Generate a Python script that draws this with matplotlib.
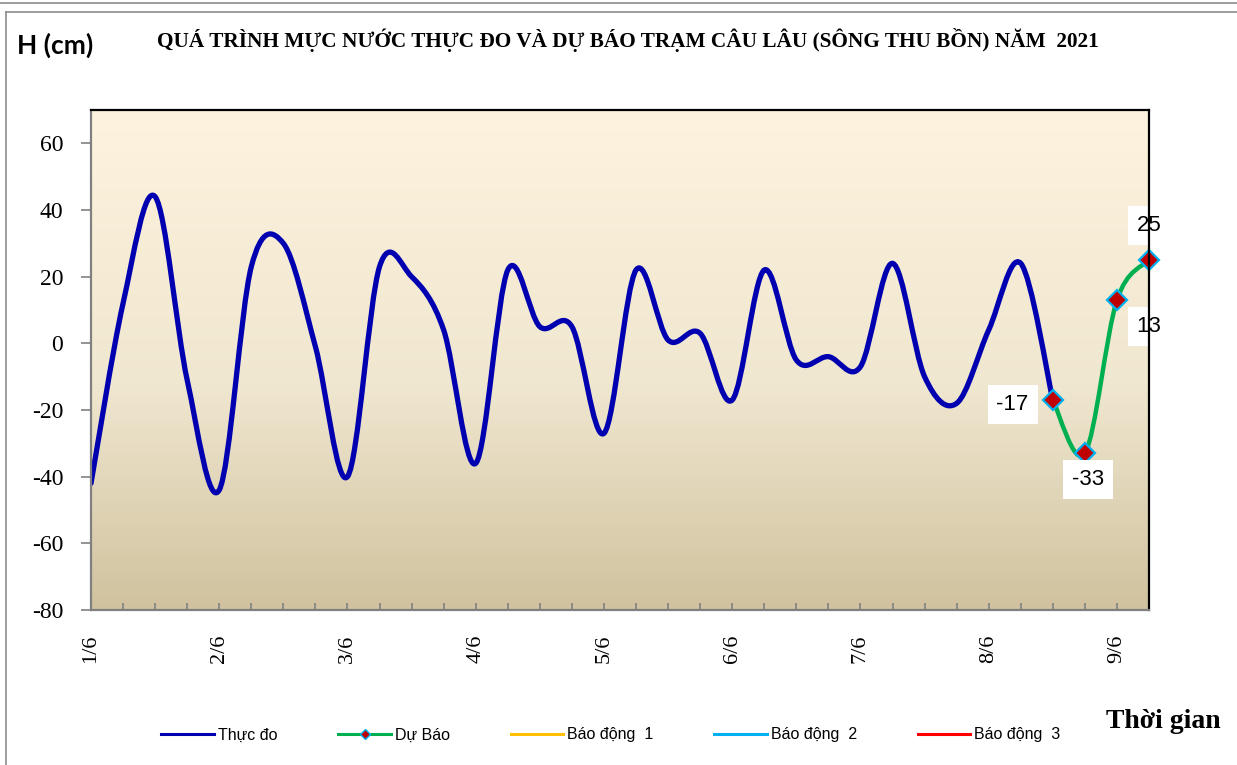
import numpy as np
import matplotlib
matplotlib.use("Agg")
import matplotlib.pyplot as plt
from matplotlib.path import Path
from matplotlib.patches import PathPatch
from matplotlib.lines import Line2D
from matplotlib.colors import LinearSegmentedColormap

# ---------------- data ----------------
day_labels = ["1/6", "2/6", "3/6", "4/6", "5/6", "6/6", "7/6", "8/6", "9/6"]
steps_per_day = 4          # observations every 6 hours
n_steps = 33               # 1/6 00h ... 9/6 06h
observed = [-42, 12, 44, -11, -44, 23, 30, -1, -40, 23, 20, 4,
            -36, 22, 5, 5, -27, 22, 1, 3, -17, 22, -5, -4,
            -7, 24, -10, -18, 4, 24, -17]
forecast = [-17, -33, 13, 25]
forecast_start = 30
forecast_label_offsets = [(-29, -3), (2, -19), (23, -19), (0, 25)]
legend_names = ["Thực đo", "Dự Báo", "Báo động  1", "Báo động  2", "Báo động  3"]
title = "QUÁ TRÌNH MỰC NƯỚC THỰC ĐO VÀ DỰ BÁO TRẠM CÂU LÂU (SÔNG THU BỒN) NĂM  2021"

BLUE = "#0000B0"
GREEN = "#00B050"
ALARM_COLORS = ["#FFC000", "#00B0F0", "#FF0000"]


def smooth_path(xs, ys):
    pts = np.column_stack([xs, ys]).astype(float)
    n = len(pts)
    verts = [pts[0]]
    codes = [Path.MOVETO]
    for i in range(n - 1):
        p0 = pts[i - 1] if i > 0 else pts[i]
        p1 = pts[i]
        p2 = pts[i + 1]
        p3 = pts[i + 2] if i + 2 < n else pts[i + 1]
        c1 = p1 + (p2 - p0) / 6.0
        c2 = p2 - (p3 - p1) / 6.0
        verts += [c1, c2, p2]
        codes += [Path.CURVE4] * 3
    return Path(verts, codes)


W, H = 1237, 765
fig = plt.figure(figsize=(W / 100, H / 100), dpi=100)
fig.patch.set_facecolor("white")

L, R, T, B = 91, 1149, 110, 610
ax = fig.add_axes([L / W, 1 - B / H, (R - L) / W, (B - T) / H])

# gradient background
cmap = LinearSegmentedColormap.from_list(
    "bg", [(0.0, (208/255, 194/255, 158/255)),
           (0.45, (240/255, 231/255, 208/255)),
           (1.0, (254/255, 243/255, 222/255))])
grad = np.linspace(0, 1, 256).reshape(-1, 1)
ax.imshow(grad, cmap=cmap, origin="lower", aspect="auto",
          extent=[0, n_steps, -80, 70], zorder=0, interpolation="bicubic")

x_obs = np.arange(len(observed))
x_fc = np.arange(forecast_start, forecast_start + len(forecast))

ax.add_patch(PathPatch(smooth_path(x_obs, observed), fill=False, edgecolor=BLUE,
                       lw=3.8, capstyle="round", joinstyle="round", zorder=3))
ax.add_patch(PathPatch(smooth_path(x_fc, forecast), fill=False, edgecolor=GREEN,
                       lw=3.2, capstyle="round", joinstyle="round", zorder=4))
ax.plot(x_fc, forecast, linestyle="none", marker="D", markersize=10,
        markerfacecolor="#C00000", markeredgecolor="#00B0F0", markeredgewidth=1.6,
        zorder=5, clip_on=False)

for xv, yv, off in zip(x_fc, forecast, forecast_label_offsets):
    ax.annotate(f"{yv}", (xv, yv), xytext=off, textcoords="offset points",
                ha="center", va="center", fontsize=16, family="Liberation Sans",
                bbox=dict(boxstyle="square,pad=0.4", fc="white", ec="none"),
                zorder=6, annotation_clip=False)

ax.set_xlim(0, n_steps)
ax.set_ylim(-80, 70)

ax.set_xticks(np.arange(0, n_steps + 1, steps_per_day))
ax.set_xticklabels(day_labels, rotation=90, fontsize=16, family="Liberation Serif")
ax.set_xticks(np.arange(0, n_steps + 1, 1), minor=True)
ax.tick_params(axis="x", which="both", direction="in", length=5, width=1.2,
               color="#808080", pad=18)
ax.set_yticks(np.arange(-80, 61, 20))
ax.set_yticklabels([str(v) for v in range(-80, 61, 20)], fontsize=17,
                   family="Liberation Serif")
ax.tick_params(axis="y", which="major", direction="out", length=7, width=1.2,
               color="#808080", pad=13)

for s in ["left", "bottom"]:
    ax.spines[s].set_color("#808080")
    ax.spines[s].set_linewidth(1.6)
for s in ["top", "right"]:
    ax.spines[s].set_color("black")
    ax.spines[s].set_linewidth(1.6)
for s in ax.spines.values():
    s.set_zorder(7)

# legend
handles = [Line2D([], [], color=BLUE, lw=2.2),
           Line2D([], [], color=GREEN, lw=2.2, marker="D", markersize=5,
                  markerfacecolor="#C00000", markeredgecolor="#00B0F0"),
           Line2D([], [], color=ALARM_COLORS[0], lw=2.2),
           Line2D([], [], color=ALARM_COLORS[1], lw=2.2),
           Line2D([], [], color=ALARM_COLORS[2], lw=2.2)]
fig.legend(handles, legend_names, loc="center", ncol=5,
           bbox_to_anchor=(611 / W, 1 - 735 / H), frameon=False,
           prop={"family": "Liberation Sans", "size": 11.5},
           handlelength=3.3, handletextpad=0.25, columnspacing=3.8)

# texts
fig.text(17 / W, 1 - 45 / H, "H (cm)", ha="left", va="center", fontsize=19,
         fontweight="bold", family="Lato")
fig.text(628 / W, 1 - 40 / H, title, ha="center", va="center", fontsize=15.3,
         fontweight="bold", family="Liberation Serif")
fig.text(1163 / W, 1 - 722 / H, "Thời gian", ha="center", va="center", fontsize=20,
         fontweight="bold", family="Liberation Serif")

# outer frame lines
fig.add_artist(Line2D([0, 1], [1 - 3 / H, 1 - 3 / H], transform=fig.transFigure,
                      color="#8c8c8c", lw=1.2))
fig.add_artist(Line2D([5.5 / W, 1], [1 - 11.5 / H, 1 - 11.5 / H],
                      transform=fig.transFigure, color="#8c8c8c", lw=1.2))
fig.add_artist(Line2D([5.5 / W, 5.5 / W], [1 - 11.5 / H, 0],
                      transform=fig.transFigure, color="#8c8c8c", lw=1.2))

fig.savefig("out.png", dpi=100)
